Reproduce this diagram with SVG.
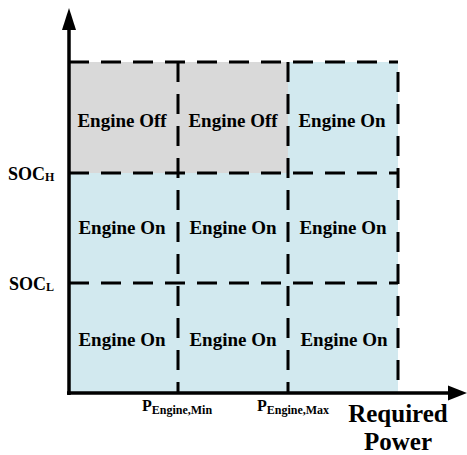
<svg xmlns="http://www.w3.org/2000/svg" width="467" height="455" viewBox="0 0 467 455">
<style>
text{font-family:"Liberation Serif","Times New Roman","DejaVu Serif",serif;font-weight:bold;fill:#000}
.cell{font-size:19px;text-anchor:middle}
.dash{stroke:#000;stroke-width:3;stroke-dasharray:20 12;fill:none}
.axis{stroke:#000;stroke-width:3.5;fill:none}
</style>
<rect width="467" height="455" fill="#fff"/>
<g id="regions">
<rect x="69" y="62" width="219" height="111" fill="#d9d9d9"/>
<rect x="288" y="62" width="110" height="111" fill="#d2e9ef"/>
<rect x="69" y="173" width="329" height="220" fill="#d2e9ef"/>
</g>
<g id="connectors">
<line class="dash" x1="69" y1="62" x2="398" y2="62"/>
<line class="dash" x1="69" y1="173" x2="398" y2="173"/>
<line class="dash" x1="69" y1="283" x2="398" y2="283"/>
<line class="dash" x1="178" y1="62" x2="178" y2="393"/>
<line class="dash" x1="288" y1="62" x2="288" y2="393"/>
<line class="dash" x1="398" y1="72" x2="398" y2="393"/>
<line class="axis" x1="69" y1="395" x2="69" y2="28"/>
<polygon points="69,8 62,30 76,30" fill="#000"/>
<line class="axis" x1="67" y1="393" x2="450" y2="393"/>
<polygon points="467,393 448,385.5 448,400.5" fill="#000"/>
</g>
<g id="cells">
<g id="c11"><text class="cell" x="122" y="127">Engine Off</text></g>
<g id="c12"><text class="cell" x="233" y="127">Engine Off</text></g>
<g id="c13"><text class="cell" x="342" y="127">Engine On</text></g>
<g id="c21"><text class="cell" x="122" y="234">Engine On</text></g>
<g id="c22"><text class="cell" x="233" y="234">Engine On</text></g>
<g id="c23"><text class="cell" x="343" y="234">Engine On</text></g>
<g id="c31"><text class="cell" x="122" y="346">Engine On</text></g>
<g id="c32"><text class="cell" x="233" y="346">Engine On</text></g>
<g id="c33"><text class="cell" x="344" y="346">Engine On</text></g>
</g>
<g id="axis-labels">
<text x="8" y="180" font-size="18">SOC<tspan font-size="12" dy="1">H</tspan></text>
<text x="9" y="290" font-size="18">SOC<tspan font-size="12" dy="1">L</tspan></text>
<text x="142" y="411" font-size="16">P<tspan font-size="12" dy="3">Engine,Min</tspan></text>
<text x="257" y="411" font-size="16">P<tspan font-size="12" dy="3">Engine,Max</tspan></text>
<text x="398" y="422" font-size="25" text-anchor="middle">Required</text>
<text x="398" y="450" font-size="25" text-anchor="middle">Power</text>
</g>
</svg>
